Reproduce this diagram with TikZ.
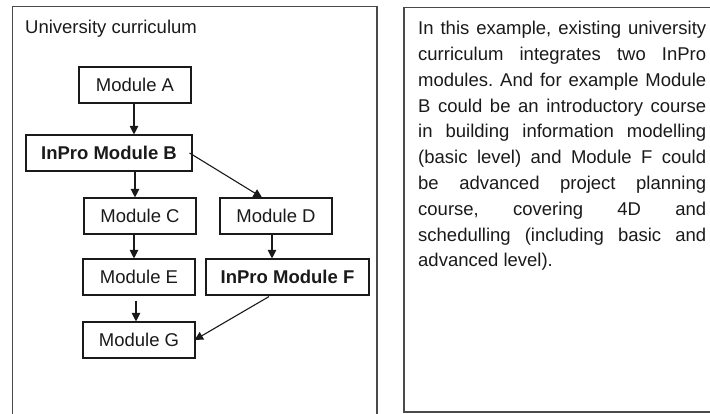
\documentclass[tikz,border=0pt]{standalone}
\usepackage{fontspec}
\setmainfont{Liberation Sans}
\usetikzlibrary{arrows.meta,calc}
\definecolor{frame}{HTML}{4A4A4A}
\definecolor{ink}{HTML}{1A1A1A}
\begin{document}
\begin{tikzpicture}[x=1pt,y=-1pt,
  modbox/.style={draw=ink, line width=1.1pt, inner sep=0pt, minimum height=36pt,
    text=ink, font=\fontsize{18.5}{20}\selectfont},
  inpro/.style={modbox, font=\fontsize{18.5}{20}\selectfont\bfseries},
  arr/.style={draw=ink, line width=1.1pt, -{Triangle[length=8.5pt,width=8.5pt]}},
  panel/.style={draw=frame, line width=1.5pt}]
\useasboundingbox (0,0) rectangle (710,413);
% panels
\draw[panel] (12.5,420) -- (12.5,6.5) -- (377,6.5) -- (377,420);
\draw[panel] (720,7.5) -- (404,7.5) -- (404,412) -- (720,412);
% title
\node[anchor=base west, inner sep=0pt, text=ink, font=\fontsize{18.5}{20}\selectfont] (title) at (25,33.5) {University curriculum};
% modules
\node[modbox, minimum width=112pt] (A) at (135,85) {Module A};
\node[inpro, minimum width=166pt] (B) at (109,153) {InPro Module B};
\node[modbox, minimum width=112pt] (C) at (140,216) {Module C};
\node[modbox, minimum width=112pt] (D) at (276,216) {Module D};
\node[modbox, minimum width=112pt] (E) at (139,277) {Module E};
\node[inpro, minimum width=163pt] (F) at (287.5,277) {InPro Module F};
\node[modbox, minimum width=112pt] (G) at (139,340) {Module G};
% connectors
\draw[arr] ([xshift=-1pt]A.south) -- ([xshift=-1pt]A.south |- B.north);
\draw[arr] ([xshift=-5pt]C.north |- B.south) -- ([xshift=-5pt]C.north);
\draw[arr] ([xshift=-3pt]B.east) -- ([xshift=-14pt]D.north);
\draw[arr] ([xshift=-6pt]C.south) -- ([xshift=-6pt]C.south |- E.north);
\draw[arr] ([xshift=-4pt]D.south) -- ([xshift=-4pt]D.south |- F.north);
\draw[arr] ([xshift=-3pt,yshift=-5pt]E.south) -- ([xshift=-3pt]E.south |- G.north);
\draw[arr] ([xshift=-18.5pt,yshift=-1pt]F.south) -- ([xshift=-1pt]G.east);
% explanation
\node[anchor=north west, inner sep=0pt, text width=288pt, align=justify, text=ink,
  font=\fontsize{18.5}{25.8}\selectfont] (txt) at (418,21) {\hyphenpenalty=10000\frenchspacing
In this example, existing university\linebreak
curriculum integrates two InPro\linebreak
modules. And for example Module\linebreak
B could be an introductory course\linebreak
in building information modelling\linebreak
(basic level) and Module F could\linebreak
be advanced project planning\linebreak
course, covering 4D and\linebreak
schedulling (including basic and\linebreak
advanced level).};
\end{tikzpicture}
\end{document}
